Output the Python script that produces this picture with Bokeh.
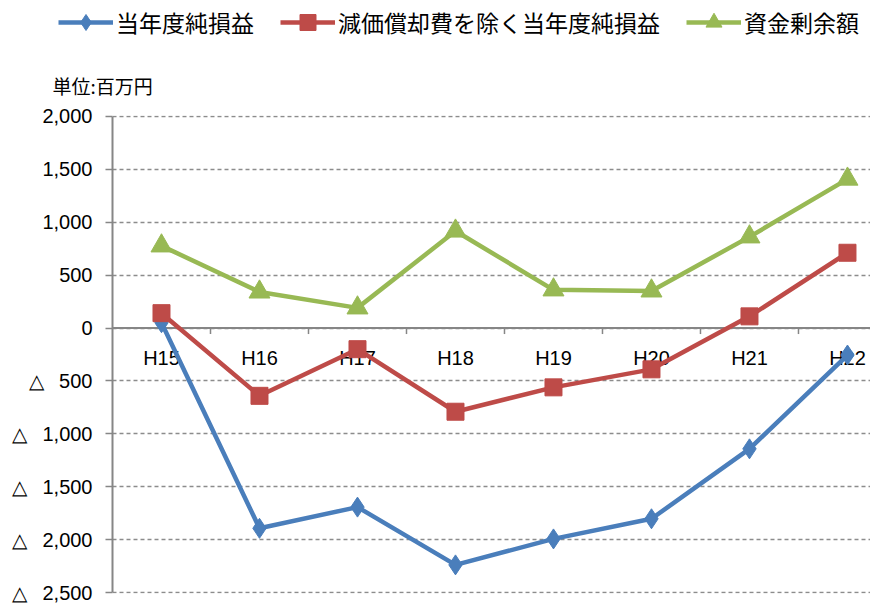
from bokeh.plotting import figure
from bokeh.layouts import column
from bokeh.models import (Range1d, Span, Legend, LegendItem, Label, CustomJSTickFormatter,
                          FixedTicker, ColumnDataSource)
from bokeh.core.properties import value
from bokeh.embed import file_html
from bokeh.resources import INLINE

categories = ["H15", "H16", "H17", "H18", "H19", "H20", "H21", "H22"]
net_profit = [50, -1890, -1690, -2235, -1990, -1800, -1140, -255]
net_excl_depr = [140, -640, -200, -790, -560, -390, 110, 710]
fund_surplus = [775, 340, 190, 915, 360, 350, 860, 1405]
series_names = ["当年度純損益", "減価償却費を除く当年度純損益", "資金剰余額"]
y_ticks = [-2500, -2000, -1500, -1000, -500, 0, 500, 1000, 1500, 2000]
unit_text = "単位:百万円"

xs = list(range(len(categories)))
CJK = "Noto Sans CJK JP"
LAT = "Liberation Sans"
colors = ["#4A7EBB", "#BE4B48", "#98B954"]
markers = ["diamond", "square", "triangle"]
sizes = [20, 17, 21]
series = [net_profit, net_excl_depr, fund_surplus]

# ---------- main chart ----------
p = figure(width=870, height=502, output_backend="svg", toolbar_location=None,
           x_range=Range1d(-0.5, 7.235), y_range=Range1d(-2505, 2005),
           min_border_left=112, min_border_right=0, min_border_top=11, min_border_bottom=13)
p.frame_align = False
p.outline_line_color = None
p.xaxis.visible = False
p.xgrid.visible = False
p.ygrid.grid_line_color = "#8c8c8c"
p.ygrid.grid_line_dash = "4 3"
p.ygrid.grid_line_width = 1.5

yax = p.yaxis[0]
yax.ticker = FixedTicker(ticks=y_ticks)
yax.bounds = (-2500, 2000)
yax.formatter = CustomJSTickFormatter(code="""
const a = Math.abs(tick).toLocaleString('en-US');
return tick < 0 ? '\u25B3 \u2002' + a : a;
""")
yax.axis_line_color = "#868686"
yax.axis_line_width = 2
yax.major_tick_line_color = "#868686"
yax.major_tick_line_width = 1.5
yax.major_tick_out = 7
yax.major_tick_in = 0
yax.minor_tick_line_color = None
yax.major_label_standoff = 13
yax.major_label_text_font = LAT
yax.major_label_text_font_size = "20px"
yax.major_label_text_color = "#000000"

zero = Span(location=0, dimension="width", line_color="#868686", line_width=2, level="underlay")
p.add_layout(zero)

bounds = [i + 0.5 for i in xs]
p.segment(x0=bounds, y0=[0] * len(bounds), x1=bounds, y1=[-57] * len(bounds),
          line_color="#868686", line_width=1.5)

src = ColumnDataSource(dict(x=xs, y=[0] * len(xs), t=categories))
p.text(x="x", y="y", text="t", source=src, y_offset=30, text_align="center",
       text_baseline="middle", text_font=value(LAT), text_font_size="20px", text_color="#000000")

for vals, c, m, s in zip(series, colors, markers, sizes):
    p.line(xs, vals, line_color=c, line_width=4.5)
    p.scatter(xs, vals, marker=m, size=s, fill_color=c, line_color=c)

# ---------- header (legend + unit) ----------
# the header's ranges are set so that the series' own points fall outside its frame;
# only the legend swatches (drawn in screen space) and texts are visible here
h = figure(width=870, height=104, output_backend="svg", toolbar_location=None,
           x_range=Range1d(100, 101), y_range=Range1d(100000, 100001),
           min_border_left=0, min_border_right=0, min_border_top=0, min_border_bottom=0)
h.frame_align = False
h.axis.visible = False
h.grid.visible = False
h.outline_line_color = None

items = []
for vals, c, m, s, name in zip(series, colors, markers, sizes, series_names):
    l = h.line(xs, vals, line_color=c, line_width=4.5)
    sc = h.scatter(xs, vals, marker=m, size=s, fill_color=c, line_color=c)
    items.append(LegendItem(label=name, renderers=[l, sc]))

legend = Legend(items=items, orientation="horizontal", location=(58, 62),
                glyph_width=55, glyph_height=40, label_standoff=3, spacing=26,
                padding=0, margin=0, border_line_color=None, background_fill_alpha=0,
                label_text_font=CJK, label_text_font_size="23px", label_text_color="#000000",
                label_height=40)
h.add_layout(legend)

unit = Label(x=52, y=19, x_units="screen", y_units="screen", text=unit_text,
             text_font=CJK, text_font_size="19px", text_baseline="middle", text_color="#000000")
h.add_layout(unit)

layout = column(h, p, spacing=0)
open("out.html", "w").write(file_html(layout, INLINE))
